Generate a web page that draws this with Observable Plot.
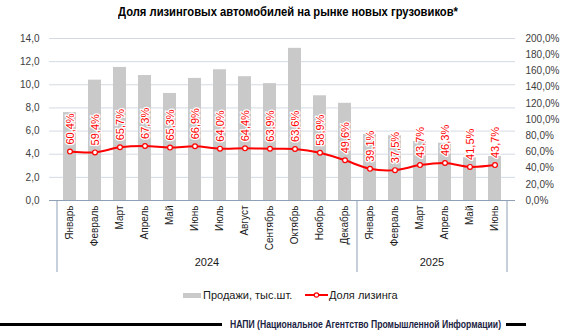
<!DOCTYPE html>
<html><head><meta charset="utf-8">
<script src="https://cdn.jsdelivr.net/npm/d3@7"></script>
<script src="https://cdn.jsdelivr.net/npm/@observablehq/plot@0.6"></script>
<style>
body{margin:0;background:#fff;width:580px;height:334px;overflow:hidden;position:relative;font-family:"Liberation Sans",Arial,sans-serif;}
#title{position:absolute;left:0;top:4px;font-weight:bold;font-size:13.5px;line-height:15px;color:#000;white-space:nowrap;transform-origin:0 0;}
#chart{position:absolute;left:0;top:24px;}
.lg{position:absolute;font-size:11px;color:#1a1a1a;white-space:nowrap;line-height:12px;}
#footer-text{position:absolute;left:230px;top:317px;font-weight:bold;font-size:11.5px;line-height:14px;color:#1b2342;white-space:nowrap;transform-origin:0 0;}
.fl{position:absolute;top:323px;height:3px;background:#000;}
</style></head>
<body>
<div id="title">Доля лизинговых автомобилей на рынке новых грузовиков*</div>
<div id="chart"></div>
<div style="position:absolute;left:183px;top:293px;width:18px;height:5px;background:#c9c9c9"></div>
<div class="lg" style="left:203px;top:289px">Продажи, тыс.шт.</div>
<svg style="position:absolute;left:305px;top:290px" width="23" height="10"><line x1="0" y1="5" x2="23" y2="5" stroke="#ff0000" stroke-width="2"/><circle cx="11.5" cy="5" r="2.2" fill="#fff" stroke="#ff0000" stroke-width="1.2"/></svg>
<div class="lg" style="left:329px;top:289px">Доля лизинга</div>
<div class="fl" style="left:0;width:222px"></div>
<div id="footer-text">НАПИ (Национальное Агентство Промышленной Информации)</div>
<div class="fl" style="left:506px;width:20px"></div>
<script>
const months = ["Январь","Февраль","Март","Апрель","Май","Июнь","Июль","Август","Сентябрь","Октябрь","Ноябрь","Декабрь","Январь","Февраль","Март","Апрель","Май","Июнь"];
const years = [2024,2024,2024,2024,2024,2024,2024,2024,2024,2024,2024,2024,2025,2025,2025,2025,2025,2025];
const sales = [7.6, 10.4, 11.5, 10.8, 9.25, 10.55, 11.3, 10.7, 10.1, 13.15, 9.05, 8.4, 5.7, 5.6, 5.1, 4.95, 3.7, 3.8];
const leasingShare = [60.4, 59.4, 65.7, 67.3, 65.3, 66.9, 64.0, 64.4, 63.9, 63.6, 58.9, 49.6, 39.1, 37.5, 43.7, 46.3, 41.5, 43.7];
const leftTicks = [0, 2, 4, 6, 8, 10, 12, 14];
const pctTicks = [0, 20, 40, 60, 80, 100, 120, 140, 160, 180, 200];
const yearLabels = ["2024", "2025"];

// fit condensed-looking texts to the reference widths
function fit(el, left, width) {
  const w = el.getBoundingClientRect().width;
  el.style.left = left + "px";
  el.style.transform = "scaleX(" + (width / w) + ")";
}
fit(document.getElementById("title"), 118, 340);
fit(document.getElementById("footer-text"), 230, 271);

const k = leftTicks[leftTicks.length - 1] / pctTicks[pctTicks.length - 1];
const comma = (v) => v.toFixed(1).replace(".", ",");
const data = months.map((m, i) => ({
  key: years[i] + "-" + String(i).padStart(2, "0"),
  month: m, year: String(years[i]), sales: sales[i], share: leasingShare[i], shareScaled: leasingShare[i] * k
}));
const keys = data.map(d => d.key);

function groups(index, scales, values, dims) {
  const x = scales.x;
  const bw = typeof x.bandwidth === "function" ? x.bandwidth() : x.bandwidth;
  const step = x(keys[1]) - x(keys[0]);
  const top = dims.height - dims.marginBottom;
  const g = d3.create("svg:g");
  const bounds = [];
  yearLabels.forEach(yl => {
    const ks = data.filter(d => d.year === yl).map(d => d.key);
    const l = x(ks[0]) + bw / 2 - step / 2;
    const r = x(ks[ks.length - 1]) + bw / 2 + step / 2;
    bounds.push(l, r);
    g.append("text").attr("x", (l + r) / 2).attr("y", top + 66)
      .attr("text-anchor", "middle").attr("fill", "#1a1a1a").attr("font-size", 11).text(yl);
  });
  [...new Set(bounds.map(b => Math.round(b * 10) / 10))].forEach(b => {
    g.append("line").attr("x1", b).attr("x2", b).attr("y1", top).attr("y2", top + 72)
      .attr("stroke", "#8da0b6").attr("stroke-width", 1);
  });
  return g.node();
}

const chart = Plot.plot({
  width: 580, height: 256,
  marginLeft: 49, marginRight: 65, marginTop: 14, marginBottom: 80,
  style: {fontFamily: "'Liberation Sans', Arial, sans-serif", fontSize: "10px", color: "#404040", background: "transparent"},
  x: {type: "band", domain: keys, paddingInner: 0.5, paddingOuter: 0.25, axis: null},
  y: {domain: [0, 14], axis: null},
  marks: [
    Plot.gridY(leftTicks, {stroke: "#d3dae3", strokeOpacity: 1}),
    Plot.barY(data, {x: "key", y: "sales", fill: "#c9c9c9"}),
    Plot.ruleY([0], {stroke: "#8da0b6"}),
    Plot.axisY({ticks: leftTicks, tickSize: 0, tickPadding: 10, tickFormat: comma, fill: "#404040"}),
    Plot.axisY({anchor: "right", ticks: pctTicks.map(p => p * k), tickSize: 0, tickPadding: 10, tickFormat: v => comma(v / k) + "%", fill: "#404040", textAnchor: "start"}),
    Plot.lineY(data, {x: "key", y: "shareScaled", stroke: "#ff0000", strokeWidth: 2, curve: "catmull-rom"}),
    Plot.dot(data, {x: "key", y: "shareScaled", r: 2.4, fill: "#fff", stroke: "#ff0000", strokeWidth: 1.2}),
    Plot.text(data, {x: "key", y: "shareScaled", text: d => comma(d.share) + "%", rotate: -90, textAnchor: "start", lineAnchor: "middle", dy: -7, fill: "#ff0000", stroke: "#fff", strokeWidth: 2.5, fontSize: 11}),
    Plot.text(data, {x: "key", text: "month", frameAnchor: "bottom", rotate: -90, textAnchor: "end", lineAnchor: "middle", dy: 5, fill: "#1a1a1a", fontSize: 10}),
    groups
  ]
});
document.getElementById("chart").appendChild(chart);
</script>
</body></html>
